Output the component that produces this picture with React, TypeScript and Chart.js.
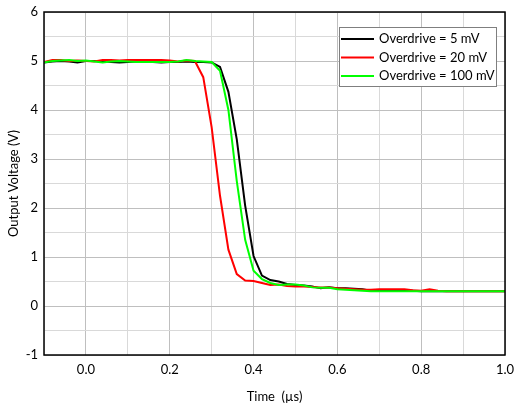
import React, { useEffect, useRef } from "react";
import { Chart, registerables } from "chart.js";

Chart.register(...registerables);

const times = [
  -0.1, -0.08, -0.06, -0.04, -0.02, 0.0, 0.02, 0.04, 0.06, 0.08,
  0.1, 0.12, 0.14, 0.16, 0.18, 0.2, 0.22, 0.24, 0.26, 0.28,
  0.3, 0.32, 0.34, 0.36, 0.38, 0.4, 0.42, 0.44, 0.46, 0.48,
  0.5, 0.52, 0.54, 0.56, 0.58, 0.6, 0.62, 0.64, 0.66, 0.68,
  0.7, 0.72, 0.74, 0.76, 0.78, 0.8, 0.82, 0.84, 0.86, 0.88,
  0.9, 0.92, 0.94, 0.96, 0.98, 1.0,
];

const od5mV = [
  4.97, 4.99, 5.0, 4.99, 4.97, 5.0, 5.0, 4.99, 4.98, 4.97,
  4.98, 4.99, 4.99, 4.98, 4.97, 4.98, 4.98, 4.99, 4.98, 4.98,
  4.97, 4.88, 4.37, 3.4, 2.05, 1.02, 0.62, 0.53, 0.5, 0.45,
  0.43, 0.42, 0.4, 0.36, 0.38, 0.36, 0.36, 0.35, 0.34, 0.31,
  0.31, 0.32, 0.32, 0.31, 0.31, 0.3, 0.3, 0.3, 0.3, 0.3,
  0.3, 0.3, 0.3, 0.3, 0.3, 0.3,
];

const od20mV = [
  4.98, 5.02, 5.02, 5.0, 5.01, 5.0, 4.99, 5.02, 5.02, 5.01,
  5.02, 5.02, 5.02, 5.02, 5.02, 5.01, 4.99, 5.01, 5.0, 4.67,
  3.65, 2.25, 1.15, 0.65, 0.52, 0.51, 0.47, 0.43, 0.44, 0.41,
  0.4, 0.4, 0.39, 0.38, 0.38, 0.36, 0.35, 0.34, 0.33, 0.33,
  0.34, 0.34, 0.34, 0.34, 0.32, 0.31, 0.34, 0.31, 0.3, 0.3,
  0.3, 0.3, 0.3, 0.3, 0.3, 0.3,
];

const od100mV = [
  4.97, 5.0, 5.01, 5.02, 5.0, 5.01, 4.99, 4.97, 4.99, 5.0,
  4.99, 4.98, 4.98, 4.98, 4.98, 4.98, 4.99, 5.02, 5.0, 4.99,
  4.98, 4.8, 4.0, 2.55, 1.35, 0.72, 0.55, 0.47, 0.43, 0.44,
  0.44, 0.42, 0.38, 0.37, 0.37, 0.34, 0.33, 0.32, 0.31, 0.3,
  0.3, 0.3, 0.3, 0.3, 0.3, 0.3, 0.3, 0.3, 0.3, 0.3,
  0.3, 0.3, 0.3, 0.3, 0.3, 0.3,
];

const seriesLabels = ["Overdrive = 5 mV", "Overdrive = 20 mV", "Overdrive = 100 mV"];
const seriesColors = ["#000000", "#ff0000", "#00ff00"];
const seriesValues = [od5mV, od20mV, od100mV];

const FONT = "Lato, 'Open Sans', sans-serif";

const frameAndLegend = {
  id: "frameAndLegend",
  afterDatasetsDraw(chart: any) {
    const { ctx, chartArea } = chart;
    ctx.save();
    ctx.strokeStyle = "#000";
    ctx.lineWidth = 1.5;
    ctx.strokeRect(chartArea.left, chartArea.top, chartArea.right - chartArea.left, chartArea.bottom - chartArea.top);

    // legend box
    const bx = chartArea.left + 295;
    const by = chartArea.top + 15;
    const bw = 157;
    const bh = 59;
    ctx.fillStyle = "#fff";
    ctx.fillRect(bx, by, bw, bh);
    ctx.strokeStyle = "#7f7f7f";
    ctx.lineWidth = 1;
    ctx.strokeRect(bx + 0.5, by + 0.5, bw, bh);
    ctx.font = `13px ${FONT}`;
    ctx.textBaseline = "middle";
    ctx.textAlign = "left";
    chart.data.datasets.forEach((ds: any, i: number) => {
      const y = by + 12 + i * 18.5;
      ctx.strokeStyle = ds.borderColor;
      ctx.lineWidth = 2;
      ctx.beginPath();
      ctx.moveTo(bx + 2, y);
      ctx.lineTo(bx + 35, y);
      ctx.stroke();
      ctx.fillStyle = "#000";
      ctx.fillText(ds.label, bx + 40, y);
    });
    ctx.restore();
  },
};

export default function App() {
  const ref = useRef<HTMLCanvasElement | null>(null);
  useEffect(() => {
    if (!ref.current) return;
    const datasets = seriesLabels.map((label, i) => ({
      label,
      data: times.map((t, j) => ({ x: t, y: seriesValues[i][j] })),
      borderColor: seriesColors[i],
      backgroundColor: seriesColors[i],
      borderWidth: 2,
      pointRadius: 0,
      tension: 0,
      order: 2 - i,
    }));
    const chart = new Chart(ref.current, {
      type: "line",
      data: { datasets },
      plugins: [frameAndLegend],
      options: {
        animation: false,
        responsive: true,
        maintainAspectRatio: false,
        layout: { padding: { top: 12, right: 10, left: 0, bottom: 0 } },
        plugins: { legend: { display: false }, tooltip: { enabled: false } },
        scales: {
          x: {
            type: "linear",
            min: -0.1,
            max: 1.0,
            afterFit: (s: any) => { s.height = 54; s.paddingLeft = 0; s.paddingRight = 0; },
            ticks: {
              stepSize: 0.1,
              autoSkip: false,
              maxRotation: 0,
              padding: 7,
              color: "#000",
              font: { family: FONT, size: 13 },
              callback: (v: any) => (Math.round(Number(v) * 10) % 2 === 0 ? Number(v).toFixed(1) : ""),
            },
            grid: {
              drawTicks: false,
              color: (c: any) => (Math.round(c.tick.value * 10) % 2 === 0 ? "#bfbfbf" : "#d9d9d9"),
            },
            border: { display: false },
            title: {
              display: true,
              text: "Time  (µs)",
              color: "#000",
              font: { family: FONT, size: 13 },
              padding: { top: 4, bottom: 4 },
            },
          },
          y: {
            type: "linear",
            min: -1,
            max: 6,
            afterFit: (s: any) => { s.width = 44; s.paddingTop = 0; s.paddingBottom = 0; },
            ticks: {
              stepSize: 0.5,
              autoSkip: false,
              padding: 6,
              color: "#000",
              font: { family: FONT, size: 13 },
              callback: (v: any) => (Number.isInteger(Number(v)) ? String(v) : ""),
            },
            grid: {
              drawTicks: false,
              color: (c: any) => (Number.isInteger(c.tick.value) ? "#bfbfbf" : "#d9d9d9"),
            },
            border: { display: false },
            title: {
              display: true,
              text: "Output Voltage (V)",
              color: "#000",
              font: { family: FONT, size: 13 },
              padding: { top: 6, bottom: 4 },
            },
          },
        },
      },
    } as any);
    return () => chart.destroy();
  }, []);
  return (
    <div style={{ position: "fixed", left: 0, top: 0, width: 515, height: 409, background: "#fff" }}>
      <canvas ref={ref} />
    </div>
  );
}
